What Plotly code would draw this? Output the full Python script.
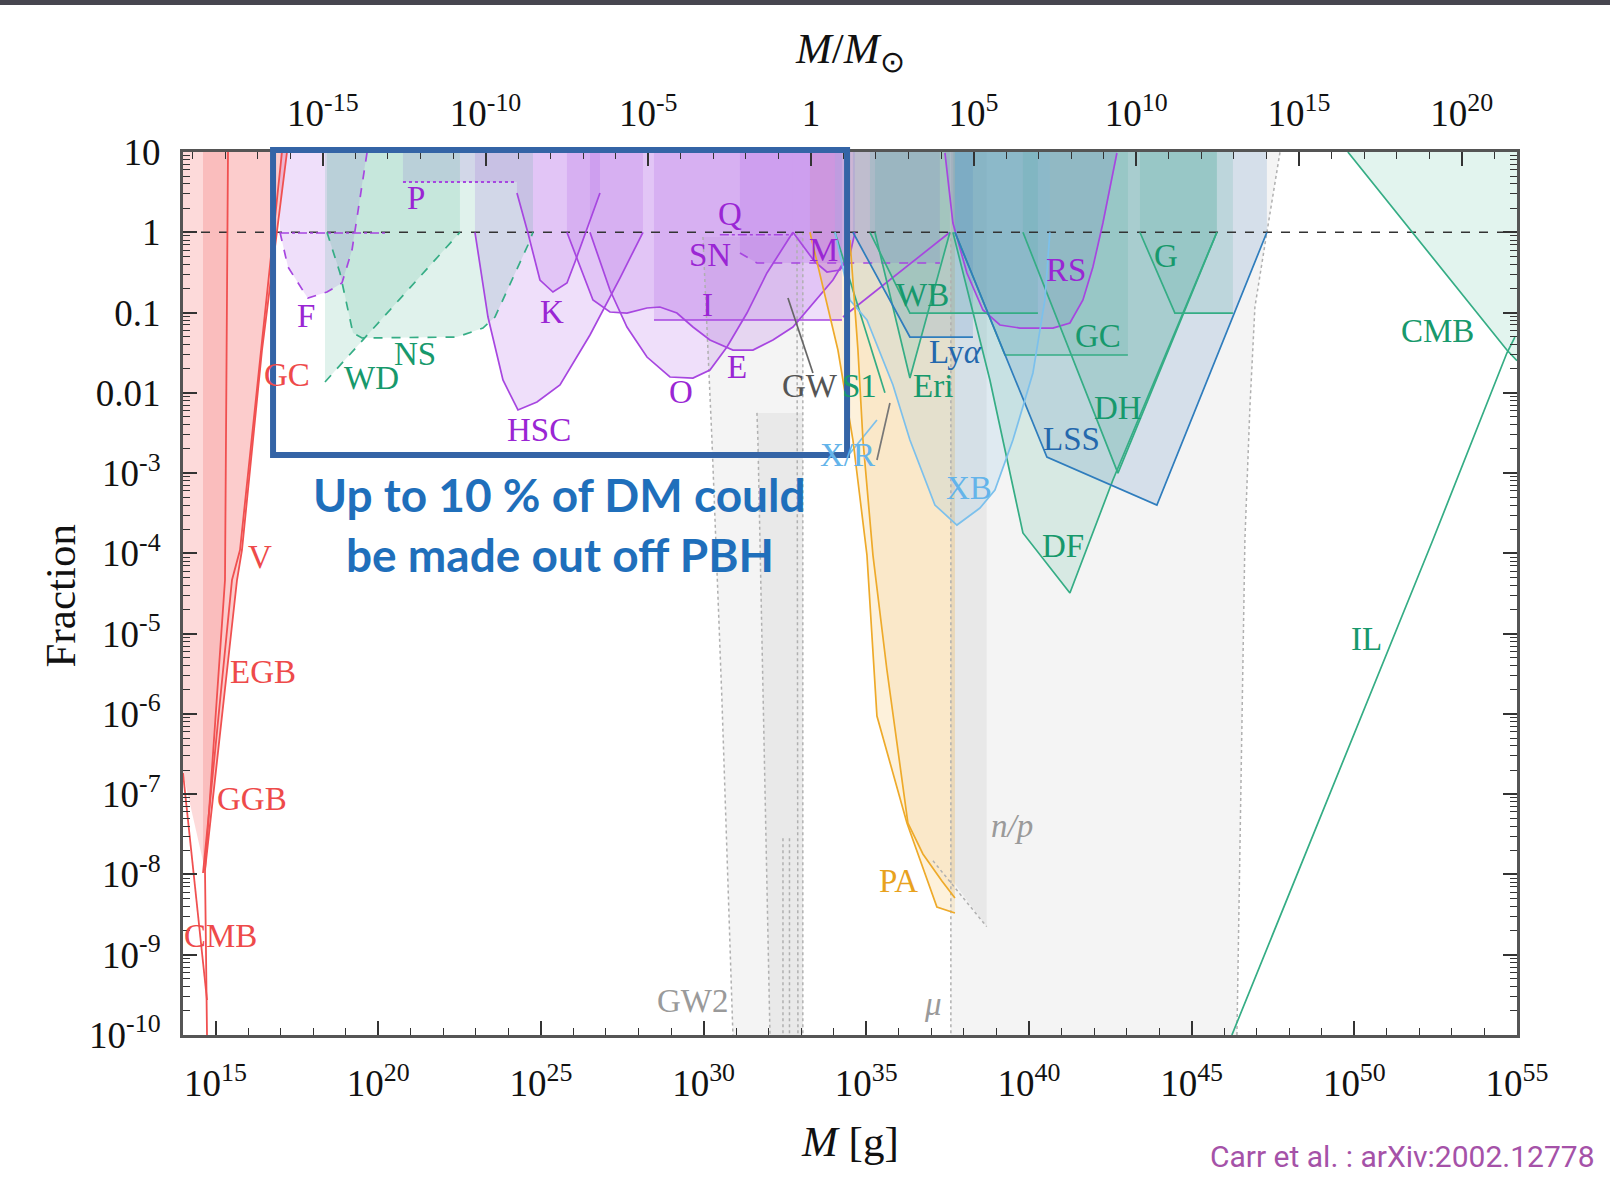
import plotly.graph_objects as go

# ---------------- data (log10 M[g], log10 f) ----------------
LOG_MSUN = 33.2986

# evaporation (red)
EVAP_A_M = [15.383, 15.291, 14.676, 14.738]
EVAP_A_F = [1.0, -4.332, -7.945, -10.0]
EVAP_B_M = [17.042, 15.752, 15.506, 14.615]
EVAP_B_F = [1.0, -3.958, -4.332, -7.982]
EVAP_C_M = [17.196, 16.428, 15.813, 15.66, 14.676]
EVAP_C_F = [1.0, -1.467, -3.958, -4.332, -7.945]
EVAP_CMB_M = [14.0, 14.738]
EVAP_CMB_F = [-6.736, -9.564]
EVAP_FILL1_M = [14.0, 17.196, 16.428, 15.813, 15.66, 14.676, 14.0]
EVAP_FILL1_F = [1.0, 1.0, -1.467, -3.958, -4.332, -7.945, -6.736]
EVAP_FILL2_M = [14.615, 17.196, 16.428, 15.813, 15.66, 14.676, 14.615]
EVAP_FILL2_F = [1.0, 1.0, -1.467, -3.958, -4.332, -7.945, -7.982]
EVAP_FILL3_M = [14.615, 15.383, 15.291, 14.676, 14.615]
EVAP_FILL3_F = [1.0, 1.0, -4.332, -7.945, -7.982]

# lensing (purple)
F_M = [16.981, 17.227, 17.811, 17.842, 18.425, 18.886, 19.194, 19.655]
F_F = [0.0, -0.433, -0.806, -0.819, -0.744, -0.632, -0.221, 0.988]
FTOP_M = [16.981, 20.27]
FTOP_F = [-0.01, -0.01]
P_M = [20.761, 24.264]
P_F = [0.626, 0.626]
K_M = [24.264, 24.602, 24.971, 25.37, 25.801, 26.047, 26.815]
K_F = [0.489, -0.009, -0.595, -0.744, -0.632, -0.37, 0.489]
HSC_M = [22.974, 23.373, 23.834, 24.295, 24.879, 25.586, 26.508, 27.43, 28.137]
HSC_F = [0.0, -1.056, -1.84, -2.214, -2.114, -1.903, -1.28, -0.57, 0.0]
O_M = [26.508, 27.122, 27.645, 28.26, 28.966, 29.673, 30.196, 30.718, 31.333, 31.947, 32.746]
O_F = [0.0, -0.719, -1.18, -1.554, -1.803, -1.816, -1.716, -1.429, -1.006, -0.507, 0.0]
E_M = [25.8, 26.6, 27.122, 27.645, 28.26, 28.659, 29.181, 29.673, 30.196, 30.902,
       31.517, 32.131, 32.746, 33.361, 33.975, 34.436]
E_F = [0.0, -0.844, -0.993, -1.006, -0.943, -0.931, -1.006, -1.18, -1.342, -1.467,
       -1.467, -1.342, -1.18, -0.881, -0.595, -0.283]
M_M = [32.746, 33.422, 33.791, 34.19, 34.498, 34.652]
M_F = [0.0, -0.37, -0.495, -0.47, -0.283, 0.0]
I_M = [28.475, 34.252]
I_F = [-1.093, -1.093]
SN_M = [31.118, 31.64, 37.264]
SN_F = [-0.258, -0.383, -0.383]
Q_M = [30.5, 32.75]
Q_F = [-0.03, -0.03]
PL_M = [34.283, 37.571]
PL_F = [-1.056, 0.0]
RS_M = [37.418, 37.663, 38.093, 38.585, 39.108, 39.722, 40.736, 41.259, 41.659, 41.966, 42.273, 42.703]
RS_F = [0.988, 0.115, -0.507, -0.968, -1.155, -1.193, -1.193, -1.13, -0.844, -0.433, 0.115, 0.988]

# dynamical (green)
NS_M = [18.425, 18.825, 19.224, 19.501, 22.42, 23.219, 23.588, 24.602, 24.756]
NS_F = [0.0, -0.507, -1.255, -1.317, -1.305, -1.193, -1.056, -0.159, 0.0]
WD_M = [18.364, 22.513]
WD_F = [-1.865, 0.0]
WB_M = [35.113, 36.342, 40.276]
WB_F = [0.0, -1.006, -1.006]
ERI_M = [35.266, 36.342, 37.571]
ERI_F = [0.0, -1.815, 0.0]
S1_M = [34.037, 35.574]
S1_F = [0.0, -2.0]
GCG_M = [37.725, 39.261, 43.041]
GCG_F = [0.0, -1.529, -1.529]
DF_M = [37.663, 38.8, 39.815, 41.259, 42.58, 45.776]
DF_F = [0.0, -1.84, -3.746, -4.494, -3.086, 0.0]
DH_M = [39.815, 42.734, 45.776]
DH_F = [0.0, -3.0, 0.0]
G_M = [43.41, 44.486, 46.268]
G_F = [0.0, -1.006, -1.006]
CMBG_M = [49.802, 54.689, 55.0]
CMBG_F = [1.0, -1.467, -1.6]
IL_M = [46.237, 52.414, 54.689, 54.935]
IL_F = [-10.0, -3.834, -1.504, -1.305]

# large-scale structure / Ly-alpha (dark blue)
LYA_M = [34.59, 36.342, 38.278]
LYA_F = [0.0, -1.305, -1.305]
LSS_M = [37.725, 40.552, 43.932, 47.313]
LSS_F = [0.0, -2.8, -3.398, 0.0]

# accretion (light blue)
XB_M = [34.037, 34.498, 35.021, 35.82, 36.342, 37.11, 37.786, 38.493, 38.954, 39.507, 40.122, 40.49, 40.644]
XB_F = [0.0, -0.844, -1.093, -1.903, -2.588, -3.398, -3.647, -3.435, -3.211, -2.588, -1.753, -0.844, 0.0]
XR_M = [34.406, 35.328]
XR_F = [-2.8, -2.339]

# gravitational waves / background (grey)
GW_M = [32.593, 33.361]
GW_F = [-0.819, -1.753]
GWB_M = [35.727, 35.328]
GWB_F = [-2.127, -2.837]
GW2_FILL_M = [29.98, 30.257, 30.564, 30.902, 33.054, 33.054]
GW2_FILL_F = [-0.059, -2.588, -5.827, -10.0, -10.0, -0.059]
GW2B_FILL_M = [31.64, 31.67, 32.04, 33.054, 33.054]
GW2B_FILL_F = [-2.25, -2.588, -10.0, -10.0, -2.25]
GW2_L_M = [29.98, 30.257, 30.564, 30.902]
GW2_L_F = [-0.059, -2.588, -5.827, -10.0]
GW2_M_M = [31.64, 31.67, 32.04]
GW2_M_F = [-2.25, -2.588, -10.0]
GW2_R1_M = [32.87, 32.9]
GW2_R1_F = [0.0, -10.0]
GW2_R2_M = [33.05, 33.05]
GW2_R2_F = [0.0, -10.0]
GW2_C1_M = [32.44, 32.44]
GW2_C1_F = [-7.55, -10.0]
GW2_C2_M = [32.64, 32.64]
GW2_C2_F = [-7.55, -10.0]
MU_FILL_M = [37.6, 46.392, 46.637, 46.791, 46.945, 47.313, 47.712, 47.75, 37.6]
MU_FILL_F = [-10.0, -10.0, -3.834, -2.177, -0.931, 0.0, 0.988, 1.0, 1.0]
MU_L_M = [37.6, 37.6]
MU_L_F = [0.0, -10.0]
MU_R_M = [46.392, 46.637, 46.791, 46.945, 47.313, 47.712, 47.75]
MU_R_F = [-10.0, -3.834, -2.177, -0.931, 0.0, 0.988, 1.0]
NP_FILL_M = [37.6, 38.7, 38.7, 37.6]
NP_FILL_F = [1.0, 1.0, -8.65, -8.05]
NP_D_M = [37.05, 38.7]
NP_D_F = [-7.83, -8.65]

# CMB distortions / accretion (orange)
PA1_M = [33.269, 34.129, 34.59, 35.021, 35.328, 36.25, 37.171, 37.725]
PA1_F = [0.0, -1.467, -2.588, -4.021, -6.026, -7.359, -8.406, -8.48]
PA2_M = [34.498, 34.744, 34.898, 35.205, 35.635, 36.28, 36.741, 37.325, 37.725]
PA2_F = [-0.096, -1.467, -2.588, -4.021, -5.453, -7.359, -7.745, -8.082, -8.294]

# labels
LABEL_TEXT = ["CMB", "GGB", "EGB", "V", "GC", "F", "P", "K", "HSC", "Q", "SN", "I", "O", "E", "M", "RS",
              "NS", "WD", "WB", "S1", "Eri", "GC", "G", "DH", "DF", "CMB", "IL",
              "Ly<i>α</i>", "LSS", "XB", "X/R", "GW", "GW2", "<i>μ</i>", "<i>n/p</i>", "PA"]
LABEL_M = [15.158, 16.134, 16.449, 16.355, 17.205, 17.772, 21.175, 25.334, 24.956, 30.816, 30.186, 30.123,
           29.3, 31.036, 33.683, 41.15,
           21.144, 19.789, 36.739, 34.786, 37.054, 42.127, 44.206, 42.725, 41.055, 52.555, 50.381,
           37.747, 41.307, 38.157, 34.408, 33.274, 29.65, 37.054, 39.48, 35.983]
LABEL_F = [-8.77, -7.056, -5.483, -4.051, -1.775, -1.046, 0.425, -0.995, -2.466, 0.233, -0.279, -0.905,
           -1.992, -1.673, -0.215, -0.471,
           -1.519, -1.813, -0.777, -1.916, -1.916, -1.289, -0.292, -2.184, -3.91, -1.225, -5.061,
           -1.494, -2.581, -3.182, -2.772, -1.916, -9.575, -9.614, -7.402, -8.079]
LABEL_GROUP = ["red"] * 5 + ["purple"] * 11 + ["green"] * 11 + ["blue", "blue", "lblue", "lblue",
                                                                   "dgray", "gray", "gray", "gray", "orange"]

# axis ticks
X_MAJOR = [15, 20, 25, 30, 35, 40, 45, 50, 55]
XTOP_MAJOR = [-15, -10, -5, 0, 5, 10, 15, 20]
Y_MAJOR = list(range(-10, 2))
Y_TEXT = ["10<sup>-10</sup>", "10<sup>-9</sup>", "10<sup>-8</sup>", "10<sup>-7</sup>", "10<sup>-6</sup>",
          "10<sup>-5</sup>", "10<sup>-4</sup>", "10<sup>-3</sup>", "0.01", "0.1", "1", "10"]

# ---------------- styling ----------------
TEXT_COL = {"red": "#ee4a4a", "purple": "#9a26d4", "green": "#17996c", "blue": "#2468ad",
            "lblue": "#64b4ea", "dgray": "#555555", "gray": "#9a9a9a", "orange": "#e8a21e"}
RED_LINE = "#f05050"
PUR_LINE = "#a746e0"
GRN_LINE = "#35ad85"
BLU_LINE = "#2f7dbd"
LBL_LINE = "#7cc0ec"
ORG_LINE = "#eeaa2a"
DOT_COL = "#b0b0b0"

PUR_FILL = "rgba(170,85,230,0.19)"
GRN_FILL = "rgba(70,180,140,0.17)"
BLU_FILL = "rgba(70,130,190,0.18)"
LBL_FILL = "rgba(120,185,230,0.16)"
ORG_FILL = "rgba(245,190,90,0.22)"

fig = go.Figure()


def pw(v):
    return [10.0 ** a for a in v]


def region(mx, fy, fillcolor, close_top=True):
    xs, ys = list(mx), list(fy)
    if close_top:
        xs = xs + [mx[-1], mx[0]]
        ys = ys + [1.0, 1.0]
    fig.add_trace(go.Scatter(x=pw(xs), y=pw(ys), mode="lines", fill="toself", fillcolor=fillcolor,
                             line=dict(width=0), hoverinfo="skip", showlegend=False))


def curve(mx, fy, color, width=1.7, dash="solid"):
    fig.add_trace(go.Scatter(x=pw(mx), y=pw(fy), mode="lines",
                             line=dict(color=color, width=width, dash=dash),
                             hoverinfo="skip", showlegend=False))


# grey backgrounds
region(MU_FILL_M, MU_FILL_F, "rgba(200,200,200,0.2)", close_top=False)
region(NP_FILL_M, NP_FILL_F, "rgba(190,190,190,0.22)", close_top=False)
region(GW2_FILL_M, GW2_FILL_F, "rgba(200,200,200,0.2)", close_top=False)
region(GW2B_FILL_M, GW2B_FILL_F, "rgba(190,190,190,0.2)", close_top=False)

# red evaporation
region(EVAP_FILL1_M, EVAP_FILL1_F, "rgba(250,140,140,0.32)", close_top=False)
region(EVAP_FILL2_M, EVAP_FILL2_F, "rgba(245,120,120,0.14)", close_top=False)
region(EVAP_FILL3_M, EVAP_FILL3_F, "rgba(240,100,100,0.14)", close_top=False)

# orange
region(PA1_M, PA1_F, ORG_FILL)
region(PA2_M, PA2_F, "rgba(235,180,90,0.14)")

# purple lensing
for m, f in [(F_M, F_F), (P_M, P_F), (K_M, K_F), (HSC_M, HSC_F), (O_M, O_F), (E_M, E_F),
             (M_M, M_F), (I_M, I_F), (SN_M, SN_F), (RS_M, RS_F)]:
    region(m, f, PUR_FILL)

# green dynamical
for m, f in [(NS_M, NS_F), (WD_M, WD_F), (WB_M, WB_F), (ERI_M, ERI_F), (GCG_M, GCG_F),
             (DF_M, DF_F), (DH_M, DH_F), (G_M, G_F)]:
    region(m, f, GRN_FILL)
region(CMBG_M + [55.0], CMBG_F + [1.0], "rgba(150,215,195,0.28)", close_top=False)

# blue
region(LYA_M, LYA_F, BLU_FILL)
region(LSS_M, LSS_F, BLU_FILL)
region(XB_M, XB_F, LBL_FILL)

# dotted grey boundaries
for m, f in [(GW2_L_M, GW2_L_F), (GW2_M_M, GW2_M_F), (GW2_R1_M, GW2_R1_F), (GW2_R2_M, GW2_R2_F),
             (GW2_C1_M, GW2_C1_F), (GW2_C2_M, GW2_C2_F), (MU_L_M, MU_L_F), (MU_R_M, MU_R_F),
             (NP_D_M, NP_D_F)]:
    curve(m, f, DOT_COL, width=1.5, dash="dot")

# f = 1 reference line
fig.add_trace(go.Scatter(x=[1e14, 1e55], y=[1.0, 1.0], mode="lines",
                         line=dict(color="#333333", width=1.5, dash="dash"),
                         hoverinfo="skip", showlegend=False))

# red lines
for m, f in [(EVAP_A_M, EVAP_A_F), (EVAP_B_M, EVAP_B_F), (EVAP_C_M, EVAP_C_F), (EVAP_CMB_M, EVAP_CMB_F)]:
    curve(m, f, RED_LINE, width=1.8)

# purple lines
curve(F_M, F_F, PUR_LINE, dash="dash")
curve(FTOP_M, FTOP_F, PUR_LINE, width=1.5, dash="dashdot")
curve(P_M, P_F, PUR_LINE, width=2.0, dash="dot")
for m, f in [(K_M, K_F), (HSC_M, HSC_F), (O_M, O_F), (E_M, E_F), (M_M, M_F), (I_M, I_F),
             (PL_M, PL_F), (RS_M, RS_F)]:
    curve(m, f, PUR_LINE)
curve(SN_M, SN_F, PUR_LINE, dash="dash")
curve(Q_M, Q_F, PUR_LINE, width=1.5, dash="dashdot")

# green lines
curve(NS_M, NS_F, GRN_LINE, dash="dash")
curve(WD_M, WD_F, GRN_LINE, dash="dash")
for m, f in [(WB_M, WB_F), (ERI_M, ERI_F), (S1_M, S1_F), (GCG_M, GCG_F), (DF_M, DF_F),
             (DH_M, DH_F), (G_M, G_F), (CMBG_M, CMBG_F), (IL_M, IL_F)]:
    curve(m, f, GRN_LINE)

# blue lines
curve(LYA_M, LYA_F, BLU_LINE)
curve(LSS_M, LSS_F, BLU_LINE)
curve(XB_M, XB_F, LBL_LINE)
curve(XR_M, XR_F, LBL_LINE)

# grey GW lines
curve(GW_M, GW_F, "#666666")
curve(GWB_M, GWB_F, "#777777")

# orange
curve(PA1_M, PA1_F, ORG_LINE)
curve(PA2_M, PA2_F, ORG_LINE)

# dummy trace to activate top axis
fig.add_trace(go.Scatter(x=[1.0], y=[1.0], xaxis="x2", yaxis="y", mode="markers",
                         marker=dict(opacity=0), hoverinfo="skip", showlegend=False))

# ---------------- labels ----------------
serif = "Liberation Serif, Times New Roman, serif"
annotations = []
for t, m, f, g in zip(LABEL_TEXT, LABEL_M, LABEL_F, LABEL_GROUP):
    annotations.append(dict(x=m, y=f, xref="x", yref="y", text=t, showarrow=False,
                            xanchor="center", yanchor="middle",
                            font=dict(family=serif, size=33, color=TEXT_COL[g])))

annotations += [
    dict(x=-0.092, y=0.497, xref="paper", yref="paper", text="Fraction", textangle=-90, showarrow=False,
         xanchor="center", yanchor="middle", font=dict(family=serif, size=43, color="#111")),
    dict(x=0.5, y=-0.121, xref="paper", yref="paper", text="<i>M</i> [g]", showarrow=False,
         xanchor="center", yanchor="middle", font=dict(family=serif, size=43, color="#111")),
    dict(x=0.5, y=1.113, xref="paper", yref="paper", text="<i>M</i>/<i>M</i><sub>⊙</sub>",
         xanchor="center", yanchor="middle", showarrow=False,
         font=dict(family=serif, size=43, color="#111")),
    dict(x=0.2826, y=0.6116, xref="paper", yref="paper", text="<b>Up to 10 % of DM could</b>",
         xanchor="center", yanchor="middle", showarrow=False,
         font=dict(family="Lato, Open Sans, sans-serif", size=46, color="#1f6fbb")),
    dict(x=0.2826, y=0.5447, xref="paper", yref="paper", text="<b>be made out off PBH</b>",
         xanchor="center", yanchor="middle", showarrow=False,
         font=dict(family="Lato, Open Sans, sans-serif", size=46, color="#1f6fbb")),
    dict(x=1.06, y=-0.138, xref="paper", yref="paper", xanchor="right", yanchor="middle",
         text="Carr et al. : arXiv:2002.12778", showarrow=False,
         font=dict(family="Roboto, sans-serif", size=30, color="#a552a8")),
]

shapes = [
    dict(type="rect", xref="paper", yref="paper", x0=0.0675, x1=0.4978, y0=0.6569, y1=1.0023,
         line=dict(color="#3464a6", width=6), layer="above"),
    dict(type="rect", xref="paper", yref="paper", x0=-0.15, x1=1.08, y0=1.1665, y1=1.18,
         line=dict(width=0), fillcolor="#47464f", layer="above"),
]

# ---------------- axes ----------------
tickfont = dict(family=serif, size=37, color="#111")
x_minor = [10.0 ** k for k in range(14, 56) if k not in X_MAJOR]
xt_minor = [10.0 ** k for k in range(-19, 22) if k not in XTOP_MAJOR]
y_minor = [m * 10.0 ** k for k in range(-10, 1) for m in range(2, 10)]

fig.update_layout(
    width=1610, height=1187,
    margin=dict(l=183, r=93, t=152, b=152),
    paper_bgcolor="white", plot_bgcolor="white", showlegend=False,
    annotations=annotations, shapes=shapes,
    xaxis=dict(type="log", range=[14, 55], tickmode="array",
               tickvals=[10.0 ** k for k in X_MAJOR],
               ticktext=["10<sup>%d</sup>" % k for k in X_MAJOR],
               ticks="inside", ticklen=14, tickwidth=1.5, tickcolor="#333",
               minor=dict(tickmode="array", tickvals=x_minor, ticks="inside", ticklen=7,
                          tickwidth=1.2, tickcolor="#333"),
               showline=True, linecolor="#555", linewidth=3, showgrid=False, zeroline=False,
               ticklabelstandoff=14, tickfont=tickfont),
    xaxis2=dict(type="log", range=[14 - LOG_MSUN, 55 - LOG_MSUN], overlaying="x", side="top",
                anchor="y", tickmode="array",
                tickvals=[10.0 ** k for k in XTOP_MAJOR],
                ticktext=[("1" if k == 0 else "10<sup>%d</sup>" % k) for k in XTOP_MAJOR],
                ticks="inside", ticklen=14, tickwidth=1.5, tickcolor="#333",
                minor=dict(tickmode="array", tickvals=xt_minor, ticks="inside", ticklen=7,
                           tickwidth=1.2, tickcolor="#333"),
                showline=True, linecolor="#555", linewidth=3, showgrid=False, zeroline=False,
                ticklabelstandoff=8, tickfont=tickfont),
    yaxis=dict(type="log", range=[-10, 1], tickmode="array",
               tickvals=[10.0 ** k for k in Y_MAJOR], ticktext=Y_TEXT,
               ticks="inside", ticklen=14, tickwidth=1.5, tickcolor="#333",
               minor=dict(tickmode="array", tickvals=y_minor, ticks="inside", ticklen=7,
                          tickwidth=1.0, tickcolor="#333"),
               showline=True, linecolor="#555", linewidth=3, mirror="ticks",
               showgrid=False, zeroline=False, ticklabelstandoff=12, tickfont=tickfont),
)

fig.write_html("out.html")
